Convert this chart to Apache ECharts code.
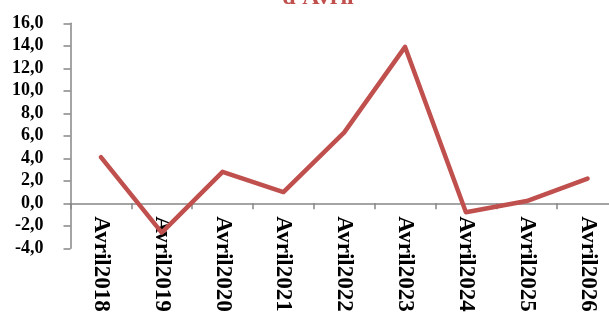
<!DOCTYPE html>
<html>
<head>
<meta charset="utf-8">
<title>Avril</title>
<script src="https://cdn.jsdelivr.net/npm/echarts@6/dist/echarts.min.js"></script>
<style>
    html, body { margin: 0; padding: 0; background: #fff; }
    #chart { width: 609px; height: 318px; }
</style>
</head>
<body>
<div id="chart"></div>
<script>
    // données
    var categories = ['Avril2018', 'Avril2019', 'Avril2020', 'Avril2021', 'Avril2022',
                      'Avril2023', 'Avril2024', 'Avril2025', 'Avril2026'];
    var values = [4.1, -2.6, 2.8, 1.0, 6.3, 13.9, -0.8, 0.2, 2.2];
    var titleText = "d'Avril";

    var myChart = echarts.init(document.getElementById('chart'));

    myChart.setOption({
        animation: false,
        title: {
            text: titleText,
            left: 313,
            textAlign: 'center',
            top: -19,
            textStyle: {
                fontFamily: 'Liberation Serif',
                fontWeight: 'bold',
                fontSize: 24,
                color: '#c0504d'
            }
        },
        grid: { left: 70.5, right: -9, top: 23.3, bottom: 69.7, containLabel: false, outerBoundsMode: 'none' },
        xAxis: {
            type: 'category',
            data: categories,
            boundaryGap: true,
            z: 0,
            axisLine: { onZero: true, lineStyle: { color: '#868686', width: 1.5 } },
            axisTick: { show: true, length: 6, inside: false, lineStyle: { color: '#868686', width: 1.5 } },
            axisLabel: {
                rotate: -90,
                margin: -32,
                interval: 0,
                hideOverlap: false,
                overflow: 'none',
                width: 200,
                fontFamily: 'Liberation Serif',
                fontWeight: 'bold',
                fontSize: 23,
                color: '#000'
            },
            splitLine: { show: false }
        },
        yAxis: {
            type: 'value',
            min: -4,
            max: 16,
            interval: 2,
            axisLine: { show: true, lineStyle: { color: '#868686', width: 1.5 } },
            axisTick: { show: true, length: 7, lineStyle: { color: '#868686', width: 1.5 } },
            axisLabel: {
                margin: 27,
                fontFamily: 'Liberation Serif',
                fontWeight: 'bold',
                fontSize: 18,
                color: '#000',
                formatter: function (v) { return v.toFixed(1).replace('.', ','); }
            },
            splitLine: { show: false }
        },
        series: [{
            type: 'line',
            data: values,
            z: 10,
            symbol: 'none',
            lineStyle: { color: '#c0504d', width: 4.5, join: 'round', cap: 'round' }
        }]
    });
</script>
</body>
</html>
